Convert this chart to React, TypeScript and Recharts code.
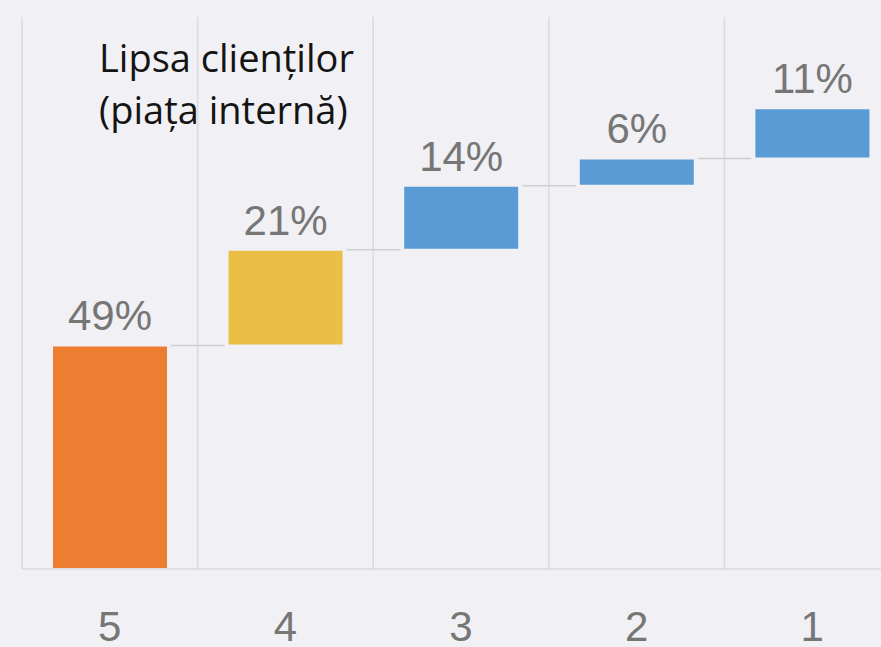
import React from 'react'
import { BarChart, Bar, XAxis, YAxis, CartesianGrid, Cell, LabelList, Rectangle } from 'recharts'

// categories left to right, and the share each one adds
const categories = ['5', '4', '3', '2', '1']
const shares = [49, 21, 14, 6, 11]

const barColors = ['#ed7d31', '#e9bf45', '#5b9bd5', '#5b9bd5', '#5b9bd5']

const BG = '#f1f0f5'
const GRID = '#dadada'
const LABEL_GRAY = '#767676'

const CHART_W = 900
const CHART_H = 660
const MARGIN = { top: 17, right: 0, bottom: 0, left: 22 }
const BAND = (CHART_W - MARGIN.left - MARGIN.right) / categories.length

// waterfall: invisible base + visible step
const data = categories.map((name, i) => ({
  name,
  base: shares.slice(0, i).reduce((a, b) => a + b, 0),
  value: shares[i],
}))

function StepBar(props: any) {
  const { x, y, width, height, fill, index } = props
  const last = index === categories.length - 1
  return (
    <g>
      <Rectangle x={x} y={y} width={width} height={height} fill={fill} stroke={BG} strokeWidth={2} />
      {!last && (
        <line x1={x + width + 3} x2={x + BAND - 3} y1={y} y2={y} stroke="#cfcfcf" strokeWidth={1.5} />
      )}
    </g>
  )
}

export default function App() {
  return (
    <div
      style={{
        position: 'absolute',
        left: 0,
        top: 0,
        width: 881,
        height: 647,
        overflow: 'hidden',
        background: BG,
      }}
    >
      <BarChart width={CHART_W} height={CHART_H} data={data} margin={MARGIN} barSize={116}>
        <CartesianGrid
          horizontal={false}
          stroke={GRID}
          strokeWidth={1.5}
          verticalCoordinatesGenerator={({ offset }: any) =>
            Array.from({ length: categories.length + 1 }, (_, i) => offset.left + (i * offset.width) / categories.length)
          }
        />
        <XAxis
          dataKey="name"
          axisLine={{ stroke: GRID, strokeWidth: 1.5 }}
          tickLine={false}
          tickMargin={36}
          height={91}
          tick={{ fill: LABEL_GRAY, fontSize: 42, fontFamily: 'Liberation Sans, Arial, sans-serif' }}
        />
        <YAxis hide domain={[0, 121]} allowDataOverflow />
        <Bar dataKey="base" stackId="w" fill="transparent" isAnimationActive={false} />
        <Bar dataKey="value" stackId="w" shape={<StepBar />} isAnimationActive={false}>
          {data.map((d, i) => (
            <Cell key={d.name} fill={barColors[i]} />
          ))}
          <LabelList
            dataKey="value"
            position="top"
            offset={15}
            formatter={(v: any) => `${v}%`}
            fill={LABEL_GRAY}
            fontSize={42}
            fontFamily="Liberation Sans, Arial, sans-serif"
          />
        </Bar>
      </BarChart>
      <div
        style={{
          position: 'absolute',
          left: 99,
          top: 31,
          fontFamily: '"Open Sans", "Noto Sans", sans-serif',
          fontSize: 38,
          lineHeight: '52px',
          color: '#141414',
          whiteSpace: 'nowrap',
        }}
      >
        Lipsa clienților
        <br />
        (piața internă)
      </div>
    </div>
  )
}
